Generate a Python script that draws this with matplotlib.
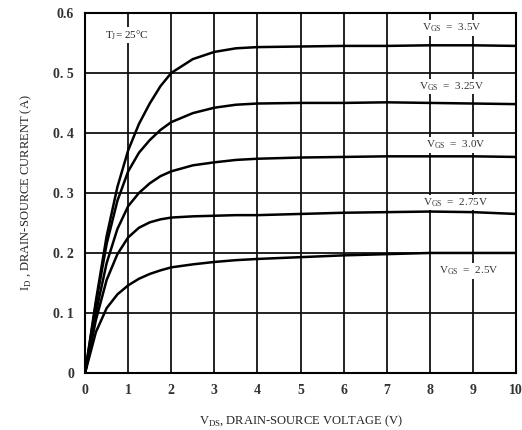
import matplotlib.pyplot as plt
import numpy as np

plt.rcParams['font.family'] = ['Liberation Serif', 'DejaVu Serif']
plt.rcParams['mathtext.fontset'] = 'custom'
plt.rcParams['mathtext.rm'] = 'Liberation Serif'

vds = [0, 0.25, 0.5, 0.75, 1, 1.25, 1.5, 1.75, 2, 2.5, 3, 3.5, 4, 5, 6, 7, 8, 9, 10]

id_35 = [0, 0.12, 0.228, 0.31, 0.371, 0.415, 0.449, 0.478, 0.50, 0.523, 0.535, 0.541, 0.543, 0.544, 0.545, 0.545, 0.546, 0.546, 0.545]
id_325 = [0, 0.115, 0.215, 0.287, 0.336, 0.367, 0.388, 0.405, 0.418, 0.433, 0.442, 0.447, 0.449, 0.450, 0.450, 0.451, 0.450, 0.449, 0.448]
id_30 = [0, 0.10, 0.183, 0.24, 0.278, 0.30, 0.316, 0.328, 0.336, 0.346, 0.351, 0.355, 0.357, 0.359, 0.360, 0.361, 0.361, 0.361, 0.360]
id_275 = [0, 0.088, 0.155, 0.198, 0.226, 0.242, 0.251, 0.256, 0.259, 0.261, 0.262, 0.263, 0.263, 0.265, 0.267, 0.268, 0.269, 0.268, 0.265]
id_25 = [0, 0.068, 0.108, 0.131, 0.146, 0.157, 0.165, 0.171, 0.176, 0.181, 0.185, 0.188, 0.19, 0.193, 0.196, 0.198, 0.2, 0.2, 0.2]

curves = [id_35, id_325, id_30, id_275, id_25]
labels = ['3.5V', '3.25V', '3.0V', '2.75V', '2.5V']
label_pos = [(8.5, 0.575), (8.5, 0.477), (8.6, 0.38), (8.6, 0.284), (8.9, 0.17)]

xticks = list(range(11))
yticks = [0, 0.1, 0.2, 0.3, 0.4, 0.5, 0.6]
ytick_labels = ['0', '0. 1', '0. 2', '0. 3', '0. 4', '0. 5', '0.6']

fig = plt.figure(figsize=(5.22, 4.30), dpi=100)
ax = fig.add_axes([0.163, 0.1326, 0.8255, 0.8374])

for c in curves:
    ax.plot(vds, c, color='black', lw=1.8, zorder=3, solid_joinstyle='round')

ax.set_xlim(0, 10)
ax.set_ylim(0, 0.6)
ax.set_xticks(xticks)
ax.set_yticks(yticks)
ax.set_yticklabels(ytick_labels)
ax.grid(True, color='#111111', lw=1.3)
ax.tick_params(length=0, pad=8, labelsize=10, labelcolor='#333333')
for lab in ax.get_xticklabels() + ax.get_yticklabels():
    lab.set_fontweight('bold')
for s in ax.spines.values():
    s.set_linewidth(1.5)

box = dict(facecolor='white', edgecolor='none', pad=1.0)
for (x, y), lab in zip(label_pos, labels):
    ax.text(x, y, r'V$_{\rm GS}$  =  ' + lab, fontsize=8, ha='center', va='center',
            color='#333333', bbox=box, zorder=4)
ax.text(0.98, 0.563, r'T$_{\rm J}$= 25°C', fontsize=8, ha='center', va='center',
        color='#222222', bbox=box, zorder=4)

ax.set_xlabel(r'V$_{\rm DS}$, DRAIN-SOURCE VOLTAGE (V)', fontsize=9, labelpad=12, color='#222222')
ax.set_ylabel(r'I$_{\rm D}$ , DRAIN-SOURCE CURRENT (A)', fontsize=9, labelpad=14, color='#222222')

fig.savefig('out.png', dpi=100)
